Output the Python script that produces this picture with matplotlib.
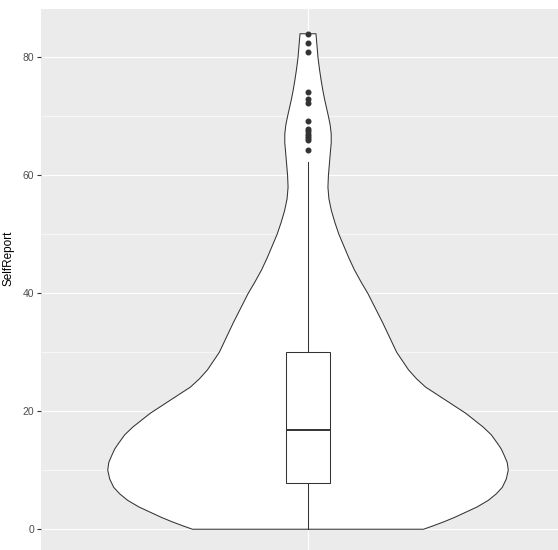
import matplotlib
matplotlib.use('Agg')
import matplotlib.pyplot as plt
import numpy as np

plt.rcParams['font.family'] = ['Liberation Sans', 'DejaVu Sans']

# violin outline: value vs. half-width (relative density)
violin_y = [0, 0.6, 1.3, 2, 2.7, 3.8, 4.9, 6, 7.1, 8.5, 10, 11.3, 12.5, 13.6,
            14.6, 16, 17.3, 18.5, 19.7, 20.8, 21.9, 23, 24.1, 25.5, 27, 28.5,
            30, 32.5, 35, 37.5, 40, 42, 44, 46, 48, 50, 52, 54, 56, 58, 60, 62,
            64, 65.5, 67, 68.5, 70, 71.5, 73, 74.5, 76, 78, 80, 82, 84]
violin_d = [116, 126, 137, 147, 156, 170, 181, 189, 195, 199, 201, 200, 197, 194,
            190, 184, 176, 167, 158, 148, 138, 128, 118, 109, 101, 95,
            89, 82, 75, 67.5, 60, 53, 46.5, 41, 36, 31, 27, 23.5, 21, 20, 20.5, 21.5,
            22.5, 23.3, 23.3, 22.3, 20.5, 18.5, 16.5, 14.8, 13.3, 11.5, 10, 9, 8]

# box statistics
q1, med, q3 = 7.8, 16.8, 30.1
whisk_lo, whisk_hi = 0, 62.3
outliers = [84.0, 82.5, 80.9, 74.2, 72.9, 72.3, 69.2, 67.8, 67.6, 67.0, 66.6,
            66.3, 66.0, 64.3]

fig = plt.figure(figsize=(5.58, 5.5), dpi=100)
ax = fig.add_axes([41 / 558, -4 / 550, 534 / 558, 545 / 550])
ax.set_facecolor('#EBEBEB')
for s in ax.spines.values():
    s.set_visible(False)

ax.set_xlim(0.4, 1.6)
ax.set_ylim(-4.2, 88.2)
ax.set_yticks([0, 20, 40, 60, 80])
ax.set_yticks([10, 30, 50, 70], minor=True)
ax.grid(True, which='major', color='white', linewidth=0.85)
ax.grid(True, which='minor', axis='y', color='white', linewidth=0.45)
ax.set_axisbelow(True)
ax.tick_params(axis='y', which='major', length=3, width=0.8, color='#333333',
               labelsize=7.5, labelcolor='#4D4D4D', pad=2)
ax.tick_params(axis='y', which='minor', length=0)
ax.tick_params(axis='x', length=0)

# violin
yv = np.array(violin_y)
hw = np.array(violin_d) / max(violin_d) * 0.45
xs = np.concatenate([1 - hw, (1 + hw)[::-1]])
ys = np.concatenate([yv, yv[::-1]])
ax.fill(xs, ys, facecolor='white', edgecolor='#333333', linewidth=0.75,
        joinstyle='round', zorder=2)

# boxplot
ax.bxp([{'med': med, 'q1': q1, 'q3': q3, 'whislo': whisk_lo, 'whishi': whisk_hi,
         'fliers': outliers}],
       positions=[1], widths=0.1, patch_artist=True,
       boxprops=dict(facecolor='white', edgecolor='#333333', linewidth=0.75),
       medianprops=dict(color='#333333', linewidth=1.4),
       whiskerprops=dict(color='#333333', linewidth=0.75),
       capprops=dict(linewidth=0),
       flierprops=dict(marker='o', markerfacecolor='#333333',
                       markeredgecolor='#333333', markersize=3.3),
       zorder=3)
ax.set_xticks([1])
ax.set_xticklabels([])
ax.set_xlim(0.4, 1.6)

ax.set_ylabel('SelfReport', fontsize=8.5, color='black')
ax.yaxis.set_label_coords(-0.049, 0.543)

fig.savefig('out.png', dpi=100)
